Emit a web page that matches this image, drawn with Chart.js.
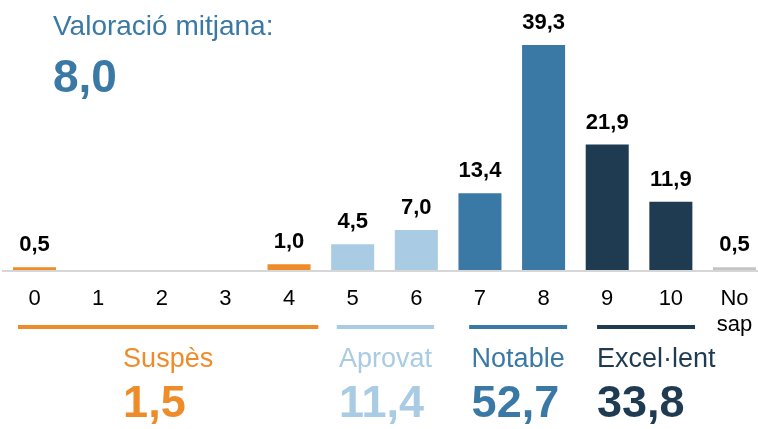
<!DOCTYPE html>
<html>
<head>
<meta charset="utf-8">
<script src="https://cdn.jsdelivr.net/npm/chart.js@4/dist/chart.umd.min.js"></script>
<style>
  html, body { margin: 0; padding: 0; background: #ffffff; }
  #wrap { width: 758px; height: 429px; position: relative; }
</style>
</head>
<body>
<div id="wrap"><canvas id="c" width="758" height="429"></canvas></div>
<script>
// ---- data ----
const categories = ['0', '1', '2', '3', '4', '5', '6', '7', '8', '9', '10', ['No', 'sap']];
const values = [0.5, 0, 0, 0, 1.0, 4.5, 7.0, 13.4, 39.3, 21.9, 11.9, 0.5];
const groupNames = ['Suspès', 'Aprovat', 'Notable', 'Excel·lent'];
const groupTotals = [1.5, 11.4, 52.7, 33.8];
const groupFirst = [0, 5, 7, 9];
const groupLast = [4, 6, 8, 10];
const titleText = 'Valoració mitjana:';
const meanValue = 8.0;

// ---- styles ----
const groupColors = ['#EE8C2A', '#A9CBE3', '#3A79A5', '#1F3B52'];
const noAnswerColor = '#C4C4C4';
const FONT = "'Liberation Sans', Arial, Helvetica, sans-serif";
const spanPad = [[-0.26, 0.46], [-0.25, 0.28], [-0.17, 0.37], [-0.16, 0.38]];

const barColors = values.map((v, i) => {
  for (let g = 0; g < groupFirst.length; g++) {
    if (i >= groupFirst[g] && i <= groupLast[g]) return groupColors[g];
  }
  return noAnswerColor;
});

const fmt = v => v.toFixed(1).replace('.', ',');

const decor = {
  id: 'decor',
  afterDatasetsDraw(chart) {
    const ctx = chart.ctx;
    const x = chart.scales.x, y = chart.scales.y;
    const base = y.getPixelForValue(0);
    ctx.save();
    // baseline
    ctx.strokeStyle = '#D6D6D6';
    ctx.lineWidth = 2;
    ctx.beginPath();
    ctx.moveTo(2, base + 1);
    ctx.lineTo(758, base + 1);
    ctx.stroke();
    // value labels
    const meta = chart.getDatasetMeta(0);
    ctx.fillStyle = '#000';
    ctx.font = 'bold 22px ' + FONT;
    ctx.textAlign = 'center';
    ctx.textBaseline = 'alphabetic';
    meta.data.forEach((bar, i) => {
      if (values[i] > 0) ctx.fillText(fmt(values[i]), bar.x, bar.y - 16);
    });
    // title
    ctx.textAlign = 'left';
    ctx.fillStyle = '#3A79A5';
    ctx.font = '28px ' + FONT;
    ctx.fillText(titleText, 53, 35);
    ctx.font = 'bold 46px ' + FONT;
    ctx.fillText(fmt(meanValue), 53, 92);
    // groups
    for (let g = 0; g < groupNames.length; g++) {
      const l = x.getPixelForValue(groupFirst[g] + spanPad[g][0]);
      const r = x.getPixelForValue(groupLast[g] + spanPad[g][1]);
      ctx.strokeStyle = groupColors[g];
      ctx.lineWidth = 4;
      ctx.beginPath();
      ctx.moveTo(l, 327);
      ctx.lineTo(r, 327);
      ctx.stroke();
      ctx.font = '27px ' + FONT;
      const w = ctx.measureText(groupNames[g]).width;
      const tx = Math.max(l, (l + r) / 2 - w / 2);
      ctx.fillStyle = groupColors[g];
      ctx.fillText(groupNames[g], tx, 367);
      ctx.font = 'bold 45px ' + FONT;
      ctx.fillText(fmt(groupTotals[g]), tx, 417);
    }
    ctx.restore();
  }
};

new Chart(document.getElementById('c'), {
  type: 'bar',
  data: {
    labels: categories,
    datasets: [{
      data: values,
      backgroundColor: barColors,
      borderWidth: 0,
      categoryPercentage: 1,
      barPercentage: 0.676,
      clip: false
    }]
  },
  options: {
    responsive: false,
    devicePixelRatio: 1,
    animation: false,
    layout: { padding: { left: 34.5, right: 23.5, top: 0, bottom: 91 } },
    plugins: { legend: { display: false }, tooltip: { enabled: false } },
    scales: {
      x: {
        type: 'category',
        offset: false,
        grid: { display: false, drawTicks: false },
        border: { display: false },
        afterFit(s) { s.height = 68; s.paddingLeft = 0; s.paddingRight = 0; },
        ticks: {
          color: '#000',
          padding: 16,
          autoSkip: false,
          maxRotation: 0,
          font: { family: FONT, size: 22, lineHeight: 26 / 22 }
        }
      },
      y: { display: false, min: 0, max: 47.16 }
    }
  },
  plugins: [decor]
});
</script>
</body>
</html>
